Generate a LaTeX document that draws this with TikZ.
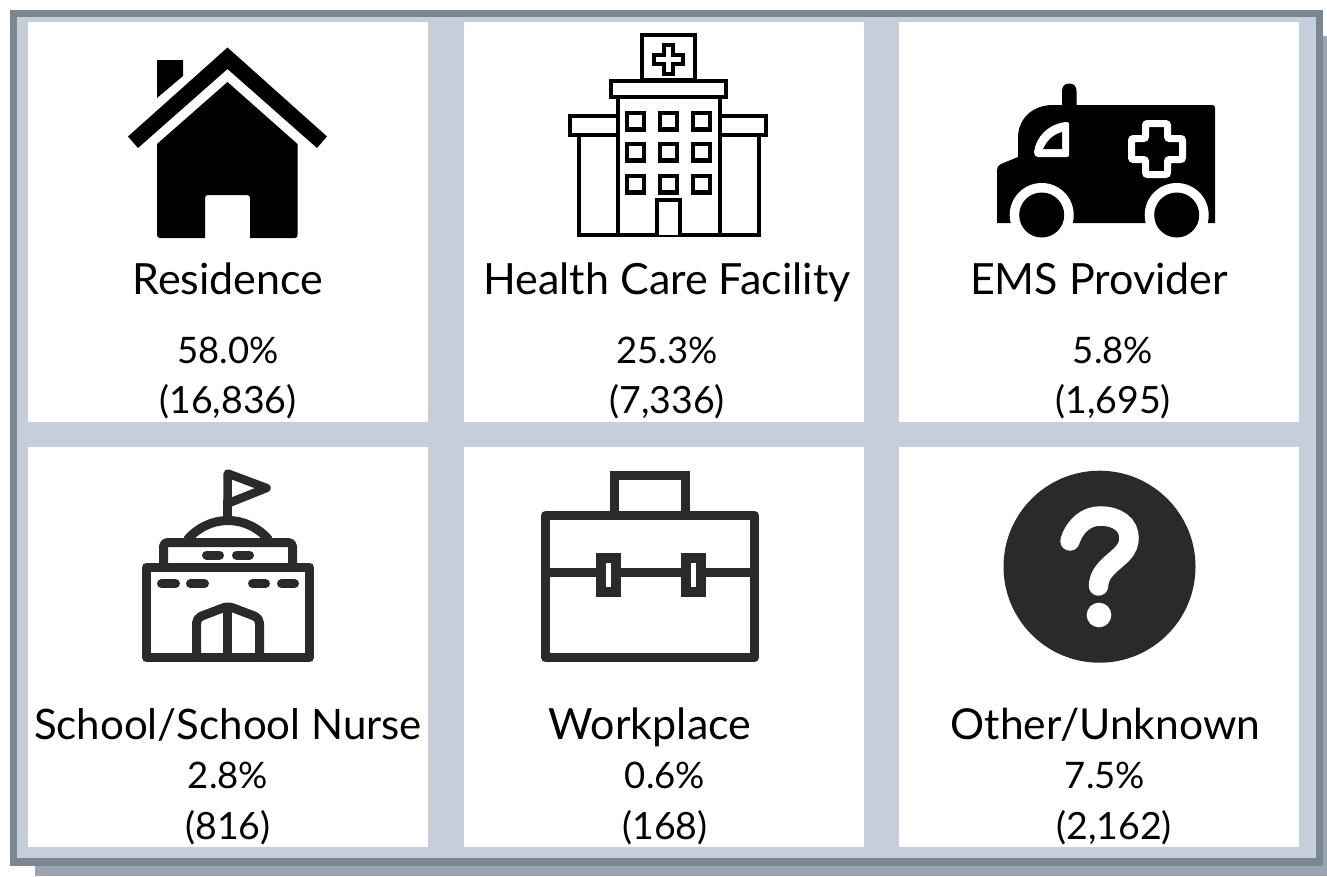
\documentclass[tikz,border=0pt]{standalone}
\usepackage{fontspec}
\setmainfont{Lato}
\definecolor{framedark}{HTML}{7B8790}
\definecolor{framelight}{HTML}{C5CED9}
\definecolor{frameshadow}{HTML}{9AA5B0}
\definecolor{icondark}{HTML}{2B2A29}
\tikzset{
  tile/.style={fill=white,draw=none},
  titletext/.style={anchor=base,inner sep=0pt,font=\fontsize{43}{48}\selectfont},
  valuetext/.style={anchor=base,inner sep=0pt,font=\fontsize{37.5}{44}\selectfont},
  percenttext/.style={anchor=base,inner sep=0pt,font=\fontsize{36.5}{44}\selectfont},
  hosp/.style={draw=black,line width=4.4pt,fill=white,line join=miter},
  hosplight/.style={draw=black,line width=3.6pt,fill=white,line join=miter},
  thick icon/.style={draw=icondark,line width=9pt,line join=round,line cap=round},
  flatline/.style={draw=icondark,line width=9pt,line cap=butt},
  pill/.style={draw=icondark,line width=9pt,line cap=round},
}
\begin{document}
\begin{tikzpicture}[x=1pt,y=-1pt]
\useasboundingbox (0,0) rectangle (1327,876);
% frame
\fill[white] (0,0) rectangle (1327,876);
\fill[frameshadow] (35,36) rectangle (1327,876);
\fill[framedark] (10,10) rectangle (1323,866);
\fill[framelight] (17,17) rectangle (1316,858);
% tiles
\foreach \px in {28,464,899}{
  \foreach \py in {22,447}{
    \path[tile] (\px,\py) rectangle ++(400,400);
  }
}
% house
\fill[black] (227.5,47.5) -- (327,136.5) -- (317,148) -- (227.5,69) -- (138,148) -- (128,136.5) -- cycle;
\fill[black] (157,60) -- (183,60) -- (183,76) -- (157,98) -- cycle;
\fill[black] (227.5,82) -- (297.5,144) -- (297.5,235) .. controls (297.5,237) and (296.5,238) .. (295,238) -- (250,238) -- (250,198) .. controls (250,196) and (249,195) .. (247,195) -- (208,195) .. controls (206,195) and (205,196) .. (205,198) -- (205,238) -- (160,238) .. controls (158.5,238) and (157,237) .. (157,235) -- (157,144) -- cycle;
% hospital
\draw[hosp] (579,135) rectangle (759,235);
\draw[hosp] (570,116) rectangle (766,135);
\draw[hosp] (642,35) rectangle (695,80);
\draw[hosp] (618,97) rectangle (720,235);
\draw[hosp] (611,81) rectangle (726,97);
\draw[hosplight] (664,45) -- (673,45) -- (673,55) -- (683,55) -- (683,64) -- (673,64) -- (673,74) -- (664,74) -- (664,64) -- (654,64) -- (654,55) -- (664,55) -- cycle;
\foreach \wx in {627,660,693}{
  \foreach \wy in {113,144,176}{
    \draw[hosp] (\wx,\wy) rectangle ++(17,16.5);
  }
}
\draw[hosp] (657,235) -- (657,200) -- (680,200) -- (680,235);
% ambulance
\fill[black] (997,223) -- (997,170) .. controls (997,167) and (998,165.5) .. (1001,164) -- (1018,157) -- (1018,138) .. controls (1018,118) and (1033,105) .. (1053,105) -- (1062,105) -- (1062,91) .. controls (1062,86) and (1065,83.5) .. (1069.2,83.5) .. controls (1073.5,83.5) and (1076.5,86) .. (1076.5,91) -- (1076.5,105) -- (1212,105) .. controls (1214,105) and (1215,106) .. (1215,108) -- (1215,223) -- cycle;
\fill[white] (1038,157) -- (1067,157) .. controls (1068.5,157) and (1069,156) .. (1069,155) -- (1069,124) .. controls (1069,122.5) and (1068,122) .. (1066,122) .. controls (1048,124) and (1036,137) .. (1034,152) .. controls (1034,155) and (1035.5,157) .. (1038,157) -- cycle;
\fill[black] (1043,149) -- (1062,149) -- (1062,132) .. controls (1052,135) and (1047,141) .. (1043,149) -- cycle;
\draw[white,line width=7pt,rounded corners=2pt] (1145.5,123.5) -- (1167.5,123.5) -- (1167.5,138.5) -- (1182.5,138.5) -- (1182.5,159.5) -- (1167.5,159.5) -- (1167.5,174.5) -- (1145.5,174.5) -- (1145.5,159.5) -- (1131.5,159.5) -- (1131.5,138.5) -- (1145.5,138.5) -- cycle;
\foreach \cx in {1041.7,1176.7}{
  \fill[white] (\cx,215) circle[radius=32pt];
  \fill[black] (\cx,215) circle[radius=22.5pt];
}
% school
\draw[thick icon] (146.5,657.5) rectangle (309.5,567.5);
\draw[thick icon,rounded corners=4pt] (163.5,567.5) -- (163.5,542.5) -- (292.5,542.5) -- (292.5,567.5);
\draw[thick icon,line cap=butt] (187,540) .. controls (197,528) and (212,520.5) .. (228,520.5) .. controls (244,520.5) and (259,528) .. (269,540);
\draw[flatline,line width=8.5pt] (227.7,522) -- (227.7,500);
\draw[thick icon,line width=8.5pt] (227.7,473.5) -- (266.5,488) -- (227.7,503.5) -- cycle;
\draw[pill] (206.5,555) -- (219.5,555);
\draw[pill] (236.5,555) -- (249.5,555);
\draw[pill] (161.5,583.7) -- (175.5,583.7);
\draw[pill] (190.5,583.7) -- (204.5,583.7);
\draw[pill] (252.5,583.7) -- (265.5,583.7);
\draw[pill] (281.5,583.7) -- (294.5,583.7);
\draw[thick icon,rounded corners=5pt] (196.5,657.5) -- (196.5,618) -- (228,606) -- (259.5,618) -- (259.5,657.5);
\draw[flatline] (227.7,606) -- (227.7,657.5);
% briefcase
\draw[thick icon,line join=miter] (614.5,515.5) -- (614.5,475.5) -- (685.5,475.5) -- (685.5,515.5);
\draw[thick icon] (545.5,515.5) rectangle (754.5,657.5);
\draw[flatline] (545.5,572) -- (754.5,572);
\draw[draw=icondark,line width=10pt,fill=white] (601,558) rectangle (616,591.5);
\draw[draw=icondark,line width=10pt,fill=white] (686,558) rectangle (700.5,591.5);
% question mark
\fill[icondark] (1099.5,566.7) circle[radius=96pt];
\draw[white,line width=19.5pt,line cap=round] (1070,541) .. controls (1075,525) and (1087,516) .. (1100,516) .. controls (1118,516) and (1129,525) .. (1129,538) .. controls (1129,550) and (1120,556) .. (1112,563) .. controls (1103,571) and (1099,577) .. (1098.5,586);
\fill[white] (1099,615) circle[radius=12.3pt];
% labels
\node[titletext] (t1) at (228,294) {Residence};
\node[percenttext] (v1a) at (228,363) {58.0\%};
\node[valuetext] (v1b) at (228,413) {(16,836)};
\node[titletext] (t2) at (667,294) {Health Care Facility};
\node[percenttext] (v2a) at (667,363) {25.3\%};
\node[valuetext] (v2b) at (667,413) {(7,336)};
\node[titletext] (t3) at (1099,294) {EMS Provider};
\node[percenttext] (v3a) at (1113,363) {5.8\%};
\node[valuetext] (v3b) at (1113,413) {(1,695)};
\node[titletext,font=\fontsize{42}{48}\selectfont] (t4) at (228,739) {School/School Nurse};
\node[percenttext] (v4a) at (228,788) {2.8\%};
\node[valuetext] (v4b) at (228,839) {(816)};
\node[titletext] (t5) at (650,739) {Workplace};
\node[percenttext] (v5a) at (665,788) {0.6\%};
\node[valuetext] (v5b) at (665,839) {(168)};
\node[titletext,font=\fontsize{42.6}{48}\selectfont] (t6) at (1105.5,739) {Other/Unknown};
\node[percenttext] (v6a) at (1105,788) {7.5\%};
\node[valuetext] (v6b) at (1114,839) {(2,162)};
\end{tikzpicture}
\end{document}
